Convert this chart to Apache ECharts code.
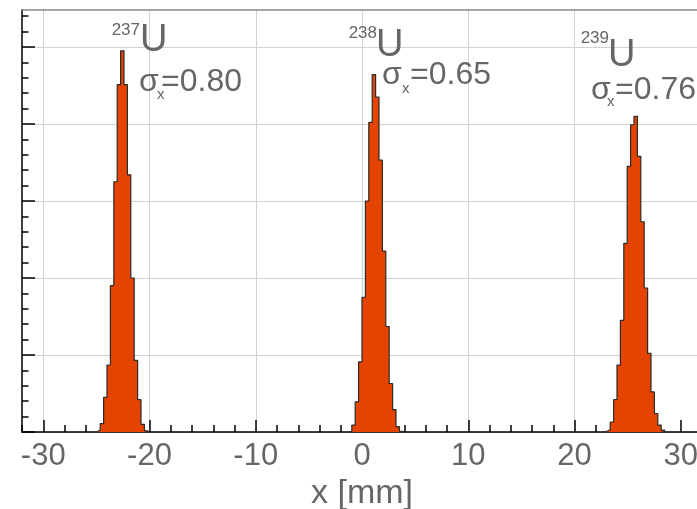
<!DOCTYPE html>
<html><head><meta charset="utf-8">
<script src="https://cdn.jsdelivr.net/npm/echarts@6/dist/echarts.min.js"></script>
<style>html,body{margin:0;padding:0;background:#fff}#c{width:697px;height:509px}</style>
</head><body><div id="c"></div>
<script>
// ---- data ----
const xMajorTicks = [-30, -20, -10, 0, 10, 20, 30];
const xMinorTicks = [-32,-30,-28,-26,-24,-22,-20,-18,-16,-14,-12,-10,-8,-6,-4,-2,0,2,4,6,8,10,12,14,16,18,20,22,24,26,28,30,32];
const yMajorTicks = [0, 100, 200, 300, 400, 500];
const yMinorTicks = [0,20,40,60,80,100,120,140,160,180,200,220,240,260,280,300,320,340,360,380,400,420,440,460,480,500,520,540];

const u237Edges  = [-24.96,-24.64,-24.32,-24.00,-23.68,-23.36,-23.04,-22.72,-22.40,-22.08,-21.76,-21.44,-21.12,-20.80,-20.48,-20.16];
const u237Counts = [2.5, 11, 45, 87, 190, 325, 451, 495, 451, 334, 200, 93, 42, 10, 1.5];

const u238Edges  = [-1.28,-0.96,-0.64,-0.32,0,0.32,0.64,0.96,1.28,1.6,1.92,2.24,2.56,2.88,3.2,3.52,3.84];
const u238Counts = [1, 9, 39, 91, 175, 300, 402, 464, 435, 353, 235, 137, 63, 29, 7, 1];

const u239Edges  = [22.72,23.04,23.36,23.68,24.0,24.32,24.64,24.96,25.28,25.6,25.92,26.24,26.56,26.88,27.2,27.52,27.84,28.16,28.48];
const u239Counts = [1, 3, 13, 42, 87, 145, 245, 345, 399, 410, 358, 273, 187, 102, 52, 24, 9, 2.5];

const isotopes = ['237', '238', '239'];
const sigmas = ['0.80', '0.65', '0.76'];

// ---- build ----
const FONT = '"Liberation Sans", Arial, sans-serif';
const GRAY = '#666';

function stepData(edges, counts) {
  const d = [[edges[0], 0]];
  for (let i = 0; i < counts.length; i++) d.push([edges[i], counts[i]]);
  d.push([edges[edges.length - 1], 0]);
  return d;
}
function histSeries(edges, counts) {
  return {
    type: 'line', step: 'end', data: stepData(edges, counts),
    symbol: 'none', xAxisIndex: 0, yAxisIndex: 0, animation: false,
    lineStyle: { color: '#2b2b2b', width: 1.2 },
    areaStyle: { color: '#e54300', opacity: 1 }
  };
}
function txt(text, x, y, size, align) {
  return { type: 'text', x: x, y: y, z: 100,
    style: { text: text, font: size + 'px ' + FONT, fill: GRAY, align: align || 'left', verticalAlign: 'top' } };
}
// annotation layout: [supRight, supTop, uLeft, uTop, sigLeft, sigTop, subLeft, subTop, valLeft]
const annLayout = [
  [140, 22, 140, 22, 139, 66, 157, 87, 161],
  [377, 25, 376, 27, 382, 59, 402, 81, 410],
  [609, 30, 608, 37, 591, 74, 607, 94, 615]
];
const graphics = [];
isotopes.forEach((iso, i) => {
  const L = annLayout[i];
  graphics.push(txt(iso, L[0], L[1], 17, 'right'));
  graphics.push(txt('U', L[2], L[3], 38));
  graphics.push(txt('σ', L[4], L[5], 32));
  graphics.push(txt('x', L[6], L[7], 15));
  graphics.push(txt('=' + sigmas[i], L[8], L[5], 32));
});

const axisBlack = { color: '#000', width: 1.5 };
const chart = echarts.init(document.getElementById('c'), null, { renderer: 'canvas' });
chart.setOption({
  animation: false,
  backgroundColor: '#fff',
  grid: { left: 22, right: -5, top: 10, bottom: 77, outerBoundsMode: 'none', containLabel: false, show: false },
  xAxis: [
    { type: 'value', min: -32, max: 32, position: 'bottom',
      axisLine: { show: true, onZero: false, lineStyle: axisBlack },
      axisTick: { show: true, inside: true, length: 12, customValues: xMajorTicks, lineStyle: axisBlack },
      axisLabel: { customValues: xMajorTicks, fontSize: 31, color: GRAY, fontFamily: FONT, margin: 9 },
      splitLine: { show: true, showMaxLine: false, lineStyle: { color: '#d2d2d2', width: 1 } },
      name: 'x [mm]', nameLocation: 'middle', nameGap: 44,
      nameTextStyle: { fontSize: 34, color: GRAY, fontFamily: FONT } },
    { type: 'value', min: -32, max: 32, position: 'bottom',
      axisLine: { show: false, onZero: false },
      axisTick: { show: true, inside: true, length: 7, customValues: xMinorTicks, lineStyle: axisBlack },
      axisLabel: { show: false }, splitLine: { show: false } },
    { type: 'value', min: -32, max: 32, position: 'top',
      axisLine: { show: true, onZero: false, lineStyle: { color: '#888', width: 1.5 } },
      axisTick: { show: false }, axisLabel: { show: false }, splitLine: { show: false } }
  ],
  yAxis: [
    { type: 'value', min: 0, max: 548, position: 'left',
      axisLine: { show: true, onZero: false, lineStyle: axisBlack },
      axisTick: { show: true, inside: true, length: 13, customValues: yMajorTicks, lineStyle: axisBlack },
      axisLabel: { show: false },
      splitLine: { show: true, lineStyle: { color: '#d2d2d2', width: 1 } } },
    { type: 'value', min: 0, max: 548, position: 'left',
      axisLine: { show: false, onZero: false },
      axisTick: { show: true, inside: true, length: 6.5, customValues: yMinorTicks, lineStyle: axisBlack },
      axisLabel: { show: false }, splitLine: { show: false } }
  ],
  series: [
    histSeries(u237Edges, u237Counts),
    histSeries(u238Edges, u238Counts),
    histSeries(u239Edges, u239Counts)
  ],
  graphic: graphics
});
</script></body></html>
